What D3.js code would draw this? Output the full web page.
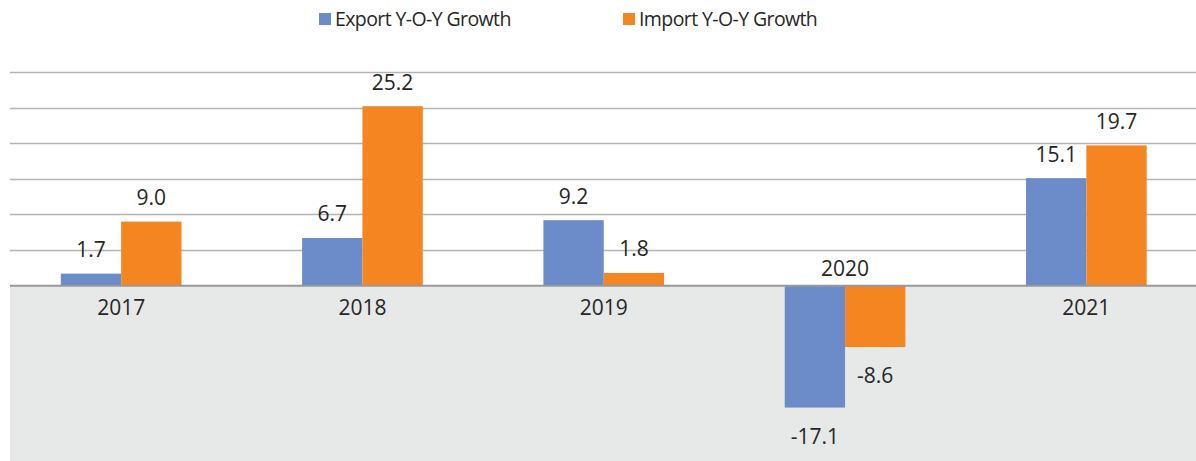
<!DOCTYPE html>
<html>
<head>
<meta charset="utf-8">
<script src="https://cdn.jsdelivr.net/npm/d3@7"></script>
<style>
  body { margin: 0; background: #fff; }
  svg text { font-family: "Open Sans", sans-serif; fill: #262626; }
</style>
</head>
<body>
<svg id="chart" width="1196" height="461"></svg>
<script>
var years = ["2017", "2018", "2019", "2020", "2021"];
var exportGrowth = [1.7, 6.7, 9.2, -17.1, 15.1];
var importGrowth = [9.0, 25.2, 1.8, -8.6, 19.7];
var seriesNames = ["Export Y-O-Y Growth", "Import Y-O-Y Growth"];
var yTicks = [0, 5, 10, 15, 20, 25, 30];

var colors = ["#6b8cc8", "#f58521"];

var svg = d3.select("svg#chart"),
  width = 1196, height = 461,
  plotLeft = 10;

var x = d3.scaleBand().domain(years).range([0.5, 1207]).paddingInner(0).paddingOuter(0);
var xs = d3.scaleBand().domain([0, 1]).range([0, x.bandwidth()]).paddingInner(0).paddingOuter(1);
var y = d3.scaleLinear().domain([-24.6, 30]).range([461, 72]);

var data = years.map(function(yr, i) {
  return { year: yr, values: [exportGrowth[i], importGrowth[i]] };
});

// grey area below zero
svg.append("rect")
  .attr("x", plotLeft).attr("y", y(0))
  .attr("width", width - plotLeft).attr("height", height - y(0))
  .attr("fill", "#e7e8e8");

// gridlines
svg.append("g").selectAll("line")
  .data(yTicks.slice(1))
  .enter().append("line")
  .attr("x1", plotLeft).attr("x2", width)
  .attr("y1", function(d) { return Math.round(y(d)) + 0.5; })
  .attr("y2", function(d) { return Math.round(y(d)) + 0.5; })
  .attr("stroke", "#b4b4b4").attr("stroke-width", 1.3);

var g = svg.append("g");
var grp = g.selectAll(".year")
  .data(data)
  .enter().append("g")
  .attr("class", "year")
  .attr("transform", function(d) { return "translate(" + x(d.year) + ",0)"; });

grp.selectAll("rect")
  .data(function(d) { return d.values; })
  .enter().append("rect")
  .attr("x", function(d, i) { return xs(i); })
  .attr("width", xs.bandwidth())
  .attr("y", function(d) { return y(Math.max(0, d)); })
  .attr("height", function(d) { return Math.abs(y(d) - y(0)); })
  .attr("fill", function(d, i) { return colors[i]; });

grp.selectAll(".val")
  .data(function(d) { return d.values; })
  .enter().append("text")
  .attr("class", "val")
  .attr("x", function(d, i) { return xs(i) + xs.bandwidth() / 2; })
  .attr("y", function(d) { return d >= 0 ? y(d) - 24 : y(d) + 29; })
  .attr("dy", "0.35em")
  .attr("text-anchor", "middle")
  .style("font-size", "21px")
  .text(function(d) { return d.toFixed(1); });

// zero line
svg.append("line")
  .attr("x1", plotLeft).attr("x2", width)
  .attr("y1", y(0)).attr("y2", y(0))
  .attr("stroke", "#999").attr("stroke-width", 2);

// category labels
grp.append("text")
  .attr("x", x.bandwidth() / 2)
  .attr("y", function(d) { return d.values[0] < 0 ? y(0) - 17 : y(0) + 22; })
  .attr("dy", "0.35em")
  .attr("text-anchor", "middle")
  .style("font-size", "21px")
  .text(function(d) { return d.year; });

// legend
var legendX = [319, 623];
var legend = svg.append("g").selectAll("g")
  .data(seriesNames)
  .enter().append("g")
  .attr("transform", function(d, i) { return "translate(" + legendX[i] + ",13)"; });
legend.append("rect")
  .attr("width", 12).attr("height", 12)
  .attr("fill", function(d, i) { return colors[i]; });
legend.append("text")
  .attr("x", 16).attr("y", 6).attr("dy", "0.35em")
  .style("font-size", "19.5px")
  .style("letter-spacing", "-0.6px")
  .text(function(d) { return d; });
</script>
</body>
</html>
